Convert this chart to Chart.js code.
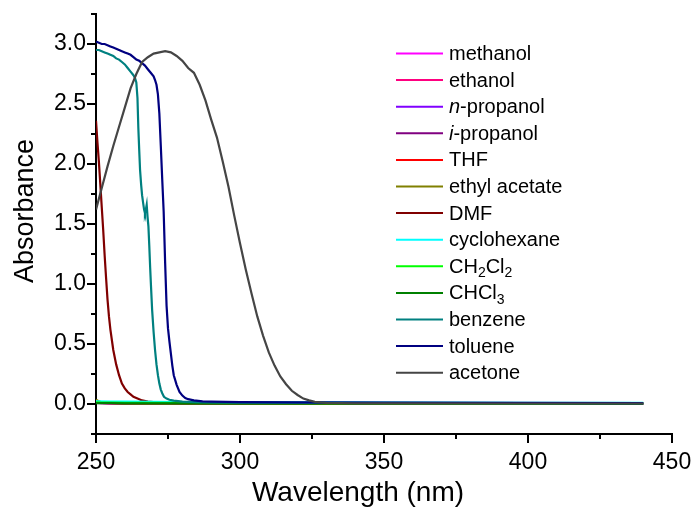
<!DOCTYPE html>
<html><head><meta charset="utf-8">
<script src="https://cdn.jsdelivr.net/npm/chart.js@4/dist/chart.umd.min.js"></script>
<style>html,body{margin:0;padding:0;background:#fff}#wrap{width:694px;height:509px}</style>
</head><body><div id="wrap"><canvas id="c" width="694" height="509"></canvas></div>
<script>
// ---- labels & colours ----
const legendLabels = ['methanol','ethanol','<i>n</i>-propanol','<i>i</i>-propanol','THF','ethyl acetate','DMF','cyclohexane','CH<sub>2</sub>Cl<sub>2</sub>','CHCl<sub>3</sub>','benzene','toluene','acetone'];
const seriesColors = ['#FF00FF','#FF0080','#8000FF','#800080','#FF0000','#808000','#800000','#00FFFF','#00FF00','#008000','#008080','#000080','#454545'];

// ---- axis ticks ----
const xTickValues = [250, 300, 350, 400, 450];
const yTickValues = [0.0, 0.5, 1.0, 1.5, 2.0, 2.5, 3.0];

// ---- data (wavelength nm, absorbance) ----
const methanolX = [250, 252, 255, 260, 270, 300, 350, 400, 440];
const methanolY = [0.010, 0.008, 0.006, 0.005, 0.004, 0.003, 0.003, 0.002, 0.002];
const ethanolX = [250, 252, 255, 260, 270, 300, 350, 400, 440];
const ethanolY = [0.012, 0.009, 0.007, 0.006, 0.005, 0.004, 0.003, 0.003, 0.002];
const nPropanolX = [250, 252, 255, 260, 270, 300, 350, 400, 440];
const nPropanolY = [0.011, 0.009, 0.007, 0.006, 0.005, 0.004, 0.003, 0.003, 0.003];
const iPropanolX = [250, 252, 255, 260, 270, 300, 350, 400, 440];
const iPropanolY = [0.010, 0.008, 0.007, 0.005, 0.004, 0.003, 0.003, 0.002, 0.002];
const thfX = [250, 252, 255, 260, 270, 300, 350, 400, 440];
const thfY = [0.014, 0.010, 0.008, 0.006, 0.005, 0.004, 0.003, 0.003, 0.002];
const ethylAcetateX = [250, 250.5, 251, 252, 254, 258, 265, 280, 300, 350, 400, 440];
const ethylAcetateY = [0.035, 0.030, 0.022, 0.015, 0.011, 0.008, 0.006, 0.005, 0.004, 0.003, 0.003, 0.002];
const dmfX = [250, 250.5, 251, 251.5, 252, 252.5, 253, 253.5, 254, 254.5, 255, 256, 257, 258, 259, 260, 261, 262, 263, 264, 266, 268, 272, 280, 300, 350, 400, 440];
const dmfY = [2.36, 2.18, 2.02, 1.83, 1.64, 1.45, 1.24, 1.05, 0.87, 0.73, 0.62, 0.45, 0.33, 0.24, 0.17, 0.13, 0.10, 0.08, 0.06, 0.05, 0.03, 0.02, 0.012, 0.008, 0.006, 0.005, 0.004, 0.004];
const cyclohexaneX = [250, 255, 260, 270, 280, 300, 350, 400, 440];
const cyclohexaneY = [0.022, 0.020, 0.019, 0.017, 0.016, 0.015, 0.012, 0.010, 0.010];
const ch2cl2X = [250, 252, 255, 260, 270, 300, 350, 400, 440];
const ch2cl2Y = [0.014, 0.012, 0.011, 0.010, 0.009, 0.008, 0.006, 0.005, 0.005];
const chcl3X = [250, 252, 255, 260, 270, 300, 350, 400, 440];
const chcl3Y = [0.008, 0.007, 0.007, 0.006, 0.005, 0.005, 0.004, 0.004, 0.003];
const benzeneX = [250, 251, 252, 253, 254, 255, 256, 257, 258, 259, 260, 261, 262, 263, 263.5, 264, 264.4, 264.7, 265, 265.3, 265.7, 266, 266.4, 266.7, 267, 267.3, 267.6, 267.9, 268.2, 268.5, 268.8, 269.1, 269.5, 270, 270.5, 271, 271.5, 272, 272.5, 273, 273.6, 274.5, 275.5, 277, 280, 285, 290, 300, 350, 400, 440];
const benzeneY = [2.95, 2.95, 2.94, 2.93, 2.92, 2.91, 2.90, 2.88, 2.87, 2.85, 2.83, 2.80, 2.77, 2.74, 2.72, 2.68, 2.55, 2.30, 2.12, 1.95, 1.82, 1.74, 1.67, 1.62, 1.59, 1.62, 1.66, 1.56, 1.48, 1.32, 1.14, 0.98, 0.78, 0.60, 0.45, 0.33, 0.24, 0.17, 0.12, 0.09, 0.06, 0.045, 0.035, 0.028, 0.020, 0.016, 0.014, 0.012, 0.010, 0.008, 0.007];
const tolueneX = [250, 251, 252, 253, 254, 255, 256, 257, 258, 259, 260, 261, 262, 263, 264, 265, 266, 267, 268, 269, 270, 270.5, 271, 271.5, 272, 272.5, 273, 273.5, 274, 274.5, 275, 275.5, 276, 276.5, 277, 278, 279, 280, 281, 282, 284, 287, 290, 300, 320, 350, 400, 440];
const tolueneY = [3.02, 3.01, 3.00, 3.00, 2.99, 2.98, 2.97, 2.96, 2.95, 2.94, 2.93, 2.92, 2.91, 2.89, 2.87, 2.86, 2.84, 2.82, 2.79, 2.76, 2.73, 2.70, 2.66, 2.58, 2.42, 2.15, 1.87, 1.60, 1.18, 0.82, 0.63, 0.52, 0.42, 0.32, 0.24, 0.16, 0.10, 0.07, 0.05, 0.04, 0.03, 0.022, 0.020, 0.016, 0.013, 0.011, 0.009, 0.008];
const acetoneX = [250, 252, 254, 256, 258, 260, 262, 264, 266, 268, 270, 272, 274, 276, 278, 280, 282, 284, 286, 288, 290, 292, 294, 296, 298, 300, 302, 304, 306, 308, 310, 312, 314, 316, 318, 320, 322, 324, 326, 328, 330, 335, 340, 350, 400, 440];
const acetoneY = [1.62, 1.80, 1.98, 2.15, 2.31, 2.47, 2.63, 2.75, 2.85, 2.89, 2.92, 2.93, 2.94, 2.93, 2.90, 2.86, 2.80, 2.76, 2.66, 2.53, 2.37, 2.22, 2.02, 1.81, 1.57, 1.34, 1.12, 0.92, 0.73, 0.57, 0.43, 0.32, 0.23, 0.165, 0.11, 0.075, 0.045, 0.030, 0.018, 0.013, 0.010, 0.007, 0.006, 0.005, 0.004, 0.004];

const seriesX = [methanolX, ethanolX, nPropanolX, iPropanolX, thfX, ethylAcetateX, dmfX, cyclohexaneX, ch2cl2X, chcl3X, benzeneX, tolueneX, acetoneX];
const seriesY = [methanolY, ethanolY, nPropanolY, iPropanolY, thfY, ethylAcetateY, dmfY, cyclohexaneY, ch2cl2Y, chcl3Y, benzeneY, tolueneY, acetoneY];

const FONT = '"Liberation Sans", Arial, sans-serif';
const N = legendLabels.length;
const datasets = legendLabels.map((lab, i) => ({
  label: lab.replace(/<[^>]+>/g, ''),
  data: seriesX[i].map((x, j) => ({x: x, y: seriesY[i][j]})),
  borderColor: seriesColors[i],
  backgroundColor: seriesColors[i],
  borderWidth: 2.2,
  pointRadius: 0,
  tension: 0,
  fill: false,
  order: N - 1 - i
}));

function isMajor(v, list) { return list.some(t => Math.abs(t - v) < 1e-6); }

function drawRich(ctx, markup, x, y) {
  const re = /<(i|sub)>(.*?)<\/\1>|([^<]+)/g;
  let m;
  while ((m = re.exec(markup)) !== null) {
    let txt, font, dy = 0;
    if (m[1] === 'i') { txt = m[2]; font = 'italic 20px ' + FONT; }
    else if (m[1] === 'sub') { txt = m[2]; font = '14px ' + FONT; dy = 6; }
    else { txt = m[3]; font = '20px ' + FONT; }
    ctx.font = font;
    ctx.fillText(txt, x, y + dy);
    x += ctx.measureText(txt).width;
  }
}

function noOverflow(s) { s.paddingLeft = 0; s.paddingRight = 0; s.paddingTop = 0; s.paddingBottom = 0; }

const decor = {
  id: 'decor',
  afterDraw(chart) {
    const ctx = chart.ctx, xs = chart.scales.x, ys = chart.scales.y, ca = chart.chartArea;
    ctx.save();
    ctx.strokeStyle = '#000'; ctx.lineWidth = 2; ctx.lineCap = 'butt';
    xs.ticks.forEach(t => {
      const px = Math.round(xs.getPixelForValue(t.value));
      const len = isMajor(t.value, xTickValues) ? 9 : 5;
      ctx.beginPath(); ctx.moveTo(px, ca.bottom); ctx.lineTo(px, ca.bottom + len); ctx.stroke();
    });
    ys.ticks.forEach(t => {
      const py = Math.round(ys.getPixelForValue(t.value));
      const len = isMajor(t.value, yTickValues) ? 9 : 5;
      ctx.beginPath(); ctx.moveTo(ca.left, py); ctx.lineTo(ca.left - len, py); ctx.stroke();
    });
    // axis titles
    ctx.fillStyle = '#000';
    ctx.textAlign = 'center'; ctx.textBaseline = 'middle';
    ctx.font = '28px ' + FONT;
    ctx.fillText('Wavelength (nm)', 358, 493);
    ctx.save();
    ctx.translate(26, 211); ctx.rotate(-Math.PI / 2);
    ctx.font = '27px ' + FONT;
    ctx.fillText('Absorbance', 0, 0);
    ctx.restore();
    // legend
    ctx.textAlign = 'left'; ctx.textBaseline = 'middle';
    chart.data.datasets.forEach((ds, i) => {
      const y = 53.5 + i * 26.6;
      ctx.strokeStyle = ds.borderColor; ctx.lineWidth = 2;
      ctx.beginPath(); ctx.moveTo(396, y); ctx.lineTo(443, y); ctx.stroke();
      ctx.fillStyle = '#000';
      drawRich(ctx, legendLabels[i], 449, y + 1);
    });
    ctx.restore();
  }
};

new Chart(document.getElementById('c'), {
  type: 'line',
  data: { datasets: datasets },
  options: {
    responsive: false, animation: false, devicePixelRatio: 1,
    layout: { padding: { top: 14, right: 22, left: 0, bottom: 0 } },
    plugins: { legend: { display: false }, tooltip: { enabled: false } },
    scales: {
      x: {
        type: 'linear', min: 250, max: 450,
        afterFit: s => { s.height = 75; noOverflow(s); },
        grid: { display: false, drawTicks: false },
        border: { display: true, color: '#000', width: 2 },
        ticks: {
          stepSize: 25, autoSkip: false, maxRotation: 0, padding: 15,
          color: '#000', font: { family: FONT, size: 23 },
          callback: v => isMajor(v, xTickValues) ? String(v) : ''
        }
      },
      y: {
        type: 'linear', min: -0.25, max: 3.25,
        afterFit: s => { s.width = 96; noOverflow(s); },
        grid: { display: false, drawTicks: false },
        border: { display: true, color: '#000', width: 2 },
        ticks: {
          stepSize: 0.25, autoSkip: false, padding: 10,
          color: '#000', font: { family: FONT, size: 23 },
          callback: v => isMajor(v, yTickValues) ? v.toFixed(1) : ''
        }
      }
    }
  },
  plugins: [decor]
});
</script>
</body></html>
